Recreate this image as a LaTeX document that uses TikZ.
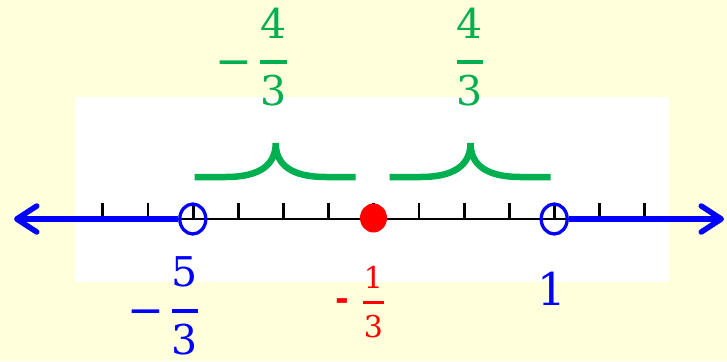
\documentclass[tikz,border=0pt]{standalone}
\usepackage{fontspec}
\newfontfamily\numfont{DejaVu Serif}
\newfontfamily\signfont{DejaVu Sans}
\usetikzlibrary{arrows.meta,shapes.geometric}
\definecolor{bgyellow}{HTML}{FFFFDC}
\definecolor{mygreen}{HTML}{00B050}
\definecolor{myblue}{HTML}{0000FF}
\definecolor{myred}{HTML}{FF0000}
\tikzset{
 digit/.style={inner sep=0pt, anchor=center, font=\numfont\fontsize{41}{41}\selectfont},
 smalldigit/.style={inner sep=0pt, anchor=center, font=\numfont\fontsize{30}{30}\selectfont},
 bigdigit/.style={inner sep=0pt, anchor=center, font=\numfont\fontsize{45}{45}\selectfont},
 minussign/.style={inner sep=0pt, anchor=north, font=\signfont\fontsize{44}{44}\selectfont},
 hyph/.style={inner sep=0pt, anchor=north, font=\signfont\bfseries\fontsize{33}{33}\selectfont},
 fracbar/.style={line width=4pt},
 tickmark/.style={line width=2.8pt, black},
 axisline/.style={line width=2.8pt, black},
 rayline/.style={line width=5.5pt, myblue, -{Straight Barb[length=20pt,width=26pt,round]}},
 opencirc/.style={ellipse, draw=myblue, line width=3.3pt, minimum width=26pt, minimum height=30pt, inner sep=0pt},
 reddot/.style={ellipse, fill=myred, minimum width=27pt, minimum height=29pt, inner sep=0pt},
 humpline/.style={line width=6.5pt, mygreen},
 hump/.pic={\draw[humpline] (-81,34) -- (-50,34) .. controls (-16,34) and (0,22) .. (0,0) .. controls (0,22) and (16,34) .. (50,34) -- (80,34);}
}
\begin{document}
\begin{tikzpicture}[x=1pt,y=-1pt]
\fill[bgyellow] (0,0) rectangle (727,361);
\useasboundingbox (0,0) rectangle (727,361);
\fill[white] (75,97) rectangle (669,282);
% axis
\coordinate (m1) at (192.8,219);
\coordinate (m2) at (554.2,219);
\coordinate (L) at (14,219);
\coordinate (R) at (724,219);
\draw[axisline] ([xshift=-13pt]m1) -- ([xshift=13pt]m2);
\foreach \i in {0,...,12}
  \draw[tickmark] ({102.8+45.17*\i},203) -- ++(0,16);
\node[opencirc] (c1) at (m1) {};
\node[opencirc] (c2) at (m2) {};
\draw[rayline] (c1.west) -- (L);
\draw[rayline] (c2.east) -- (R);
\node[reddot] (dot) at (373.5,218) {};
% humps
\pic at (275.7,143) {hump};
\pic at (470.5,143) {hump};
% green labels
\node[minussign, mygreen] (gm) at (234,60.5) {−};
\node[digit, mygreen] (g1n) at (273.5,23.5) {4};
\node[digit, mygreen] (g1d) at (273.5,90.5) {3};
\draw[fracbar, mygreen] (260,62) -- (287,62);
\node[digit, mygreen] (g2n) at (470,23.5) {4};
\node[digit, mygreen] (g2d) at (470,90.5) {3};
\draw[fracbar, mygreen] (457,62) -- (483,62);
% blue labels
\node[minussign, myblue] (bm) at (146,309.5) {−};
\node[digit, myblue] (b1n) at (185,271.5) {5};
\node[digit, myblue] (b1d) at (185,340) {3};
\draw[fracbar, myblue] (172,311) -- (198,311);
\node[bigdigit, myblue] (one) at (552,288.5) {1};
% red label
\node[hyph, myred] (rm) at (342.5,298) {-};
\node[smalldigit, myred] (r1n) at (373.5,277) {1};
\node[smalldigit, myred] (r1d) at (373.5,326.5) {3};
\draw[fracbar, myred, line width=3pt] (363,302) -- (384,302);
\end{tikzpicture}
\end{document}
